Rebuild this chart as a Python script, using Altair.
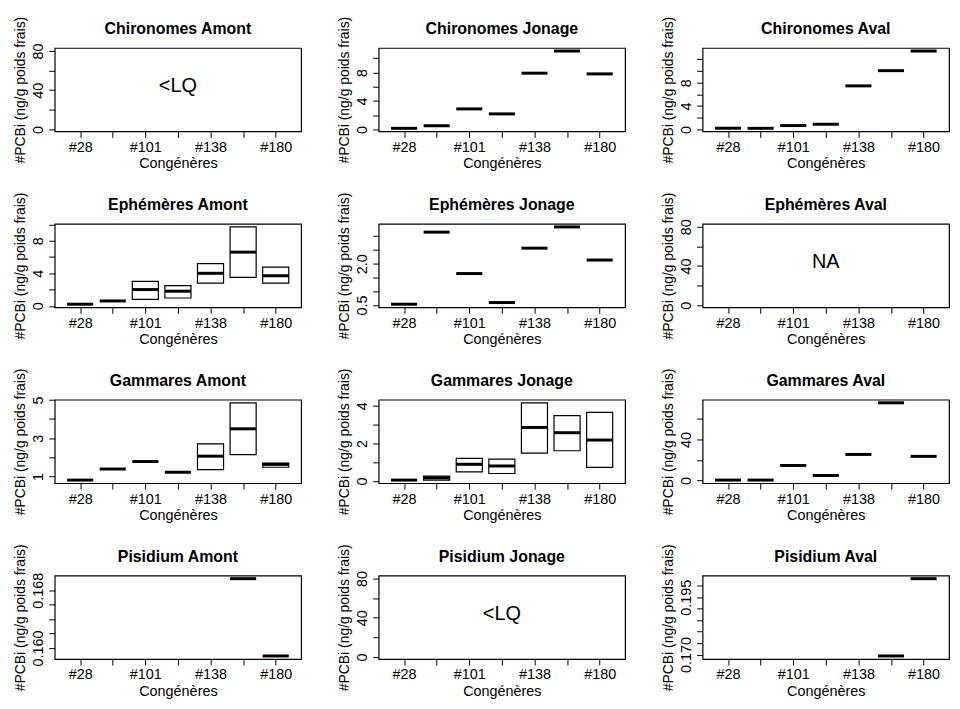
import json
import altair as alt
import pandas as pd

# ---------------- data ----------------
congeners = ["#28", "#52", "#101", "#118", "#138", "#153", "#180"]
taxa = ["Chironomes", "Ephémères", "Gammares", "Pisidium"]
sites = ["Amont", "Jonage", "Aval"]

# medians (thick bars), lower / upper hinges (boxes); None = no value
chir_jonage_med = [0.18, 0.54, 2.9, 2.2, 7.9, 11.0, 7.8]
chir_aval_med = [0.22, 0.2, 0.67, 0.9, 7.45, 10.05, 13.4]

eph_amont_med = [0.2, 0.6, 2.0, 1.8, 4.0, 6.6, 3.7]
eph_amont_low = [0.2, 0.6, 0.8, 0.96, 2.8, 3.5, 2.8]
eph_amont_high = [0.2, 0.6, 3.0, 2.48, 5.2, 9.7, 4.76]
eph_jonage_med = [0.53, 3.14, 1.64, 0.59, 2.56, 3.33, 2.13]

gam_amont_med = [0.81, 1.39, 1.78, 1.22, 2.06, 3.49, 1.63]
gam_amont_low = [0.81, 1.39, 1.78, 1.22, 1.36, 2.14, 1.48]
gam_amont_high = [0.81, 1.39, 1.78, 1.22, 2.70, 4.85, 1.70]
gam_jonage_med = [0.05, 0.17, 0.89, 0.80, 2.85, 2.57, 2.18]
gam_jonage_low = [0.05, 0.05, 0.49, 0.40, 1.48, 1.61, 0.73]
gam_jonage_high = [0.05, 0.26, 1.20, 1.17, 4.16, 3.48, 3.65]
gam_aval_med = [0.3, 0.3, 14.6, 4.8, 25.4, 75.9, 23.5]

pis_amont_med = [None, None, None, None, None, 0.1696, 0.1589]
pis_aval_med = [None, None, None, None, None, 0.1694, 0.2031]

# y-axis ticks and the labels that are printed
ticks_empty, shown_empty = [0, 20, 40, 60, 80], [0, 40, 80]
ticks_chir_jon, shown_chir_jon = [0, 2, 4, 6, 8, 10], [0, 4, 8]
ticks_chir_aval, shown_chir_aval = [0, 2, 4, 6, 8, 10, 12, 14], [0, 4, 8, 14]
ticks_eph_amont, shown_eph_amont = [0, 2, 4, 6, 8, 10], [0, 4, 8]
ticks_eph_jon, shown_eph_jon = [0.5, 1.0, 1.5, 2.0, 2.5, 3.0], [0.5, 2.0]
ticks_gam_amont, shown_gam_amont = [1, 2, 3, 4, 5], [1, 3, 5]
ticks_gam_jon, shown_gam_jon = [0, 1, 2, 3, 4], [0, 2, 4]
ticks_gam_aval, shown_gam_aval = [0, 20, 40, 60], [0, 40]
ticks_pis_amont, shown_pis_amont = [0.160, 0.162, 0.164, 0.166, 0.168], [0.160, 0.168]
ticks_pis_aval, shown_pis_aval = [0.170, 0.175, 0.180, 0.185, 0.190, 0.195, 0.200], [0.170, 0.195]

empty_range = [-2, 83]
note_pos = [4, 44]

FONT = "Liberation Sans"
W, H = 248, 84
YTITLE = "#PCBi (ng/g poids frais)"

x_label_expr = (
    f"datum.value % 2 == 1 ? {json.dumps(congeners)}[datum.value - 1] : ''"
)


def panel(title, med=None, low=None, high=None, ticks=None, shown=None,
          fmt="d", note=None):
    n = len(congeners)
    x_scale = alt.Scale(domain=[0.5 - 0.04 * n, n + 0.5 + 0.04 * n],
                        nice=False, zero=False)
    if med is None:
        domain = empty_range
    else:
        lo_l = low if low is not None else med
        hi_l = high if high is not None else med
        vals = [v for v in lo_l + hi_l if v is not None]
        lo, hi = min(vals), max(vals)
        pad = 0.04 * (hi - lo)
        domain = [lo - pad, hi + pad]
    y_scale = alt.Scale(domain=domain, nice=False, zero=False)

    x_axis = alt.Axis(values=list(range(1, n + 1)), labelExpr=x_label_expr,
                      title="Congénères", grid=False, domain=False,
                      tickSize=6, labelPadding=3, titlePadding=3,
                      labelFlush=False, labelOverlap=False)
    y_axis = alt.Axis(values=ticks, format=fmt,
                      labelExpr=f"indexof({json.dumps(shown)}, datum.value) >= 0 ? datum.label : ''",
                      labelAngle=270, labelAlign="center", labelBaseline="bottom",
                      title=YTITLE, titleFontSize=14, titlePadding=3,
                      grid=False, domain=False, tickSize=6, labelPadding=3,
                      labelFlush=False, labelOverlap=False)

    layers = []
    if med is not None:
        rows = []
        for i, c in enumerate(congeners):
            if med[i] is None:
                continue
            rows.append({
                "congener": c,
                "xl": i + 1 - 0.4,
                "xr": i + 1 + 0.4,
                "med": med[i],
                "low": (low[i] if low is not None else med[i]),
                "high": (high[i] if high is not None else med[i]),
            })
        df = pd.DataFrame(rows)
        boxes = df[df["high"] > df["low"]]
        if len(boxes):
            layers.append(
                alt.Chart(boxes).mark_rect(fill="white", stroke="black",
                                           strokeWidth=1.2).encode(
                    x=alt.X("xl:Q", scale=x_scale, axis=x_axis),
                    x2="xr:Q",
                    y=alt.Y("low:Q", scale=y_scale, axis=y_axis),
                    y2="high:Q",
                )
            )
        layers.append(
            alt.Chart(df).mark_rule(color="black", strokeWidth=3,
                                    strokeCap="butt").encode(
                x=alt.X("xl:Q", scale=x_scale, axis=x_axis),
                x2="xr:Q",
                y=alt.Y("med:Q", scale=y_scale, axis=y_axis),
            )
        )
    if note is not None:
        ndf = pd.DataFrame({"x": [note_pos[0]], "y": [note_pos[1]], "note": [note]})
        layers.append(
            alt.Chart(ndf).mark_text(fontSize=20, color="black", font=FONT,
                                     baseline="middle", align="center").encode(
                x=alt.X("x:Q", scale=x_scale, axis=x_axis),
                y=alt.Y("y:Q", scale=y_scale, axis=y_axis),
                text="note:N",
            )
        )
    # the rotated y-axis title sticks out ~32px above the plot box; the
    # title is laid out from those bounds, so pull it back down
    return alt.layer(*layers).properties(
        width=W, height=H,
        title=alt.TitleParams(text=title, anchor="middle", frame="group",
                              fontSize=16, fontWeight="bold", offset=-21,
                              font=FONT, color="black"),
    )


panels = [
    panel(f"{taxa[0]} {sites[0]}", ticks=ticks_empty, shown=shown_empty, note="<LQ"),
    panel(f"{taxa[0]} {sites[1]}", med=chir_jonage_med,
          ticks=ticks_chir_jon, shown=shown_chir_jon),
    panel(f"{taxa[0]} {sites[2]}", med=chir_aval_med,
          ticks=ticks_chir_aval, shown=shown_chir_aval),
    panel(f"{taxa[1]} {sites[0]}", med=eph_amont_med, low=eph_amont_low,
          high=eph_amont_high, ticks=ticks_eph_amont, shown=shown_eph_amont),
    panel(f"{taxa[1]} {sites[1]}", med=eph_jonage_med,
          ticks=ticks_eph_jon, shown=shown_eph_jon, fmt=".1f"),
    panel(f"{taxa[1]} {sites[2]}", ticks=ticks_empty, shown=shown_empty, note="NA"),
    panel(f"{taxa[2]} {sites[0]}", med=gam_amont_med, low=gam_amont_low,
          high=gam_amont_high, ticks=ticks_gam_amont, shown=shown_gam_amont),
    panel(f"{taxa[2]} {sites[1]}", med=gam_jonage_med, low=gam_jonage_low,
          high=gam_jonage_high, ticks=ticks_gam_jon, shown=shown_gam_jon),
    panel(f"{taxa[2]} {sites[2]}", med=gam_aval_med,
          ticks=ticks_gam_aval, shown=shown_gam_aval),
    panel(f"{taxa[3]} {sites[0]}", med=pis_amont_med,
          ticks=ticks_pis_amont, shown=shown_pis_amont, fmt=".3f"),
    panel(f"{taxa[3]} {sites[1]}", ticks=ticks_empty, shown=shown_empty, note="<LQ"),
    panel(f"{taxa[3]} {sites[2]}", med=pis_aval_med,
          ticks=ticks_pis_aval, shown=shown_pis_aval, fmt=".3f"),
]

chart = alt.concat(
    *panels, columns=3, spacing={"row": 93, "column": 78}, bounds="flush"
).properties(
    padding={"left": 5, "top": 5, "right": 2, "bottom": 0}
).configure(
    font=FONT, background="white"
).configure_view(
    stroke="black", strokeWidth=1.2
).configure_axis(
    labelFont=FONT, titleFont=FONT, labelFontSize=14.5, titleFontSize=14.5,
    titleFontWeight="normal", labelColor="black", titleColor="black",
    tickColor="black", tickWidth=1
)

chart.save("out.html", embed_options={"renderer": "svg", "actions": False})
